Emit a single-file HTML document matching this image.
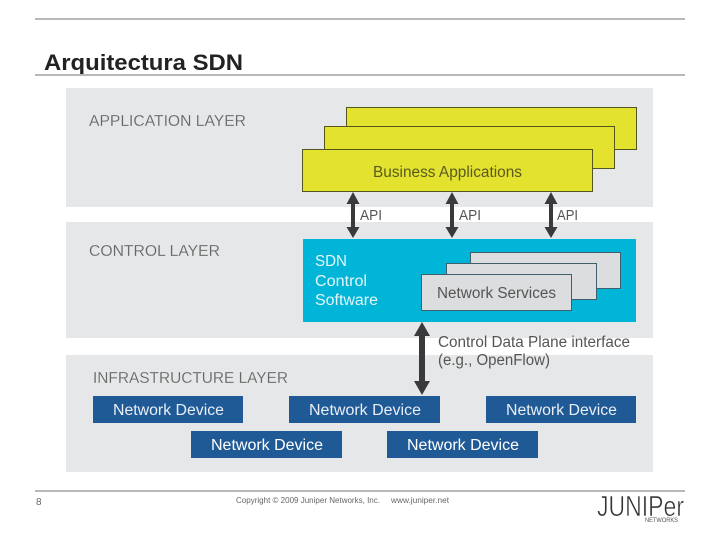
<!DOCTYPE html>
<html><head><meta charset="utf-8"><style>
html,body{margin:0;padding:0;background:#fff}
svg{display:block}
text{font-family:"Liberation Sans",sans-serif}
</style></head><body>
<svg width="720" height="540" viewBox="0 0 720 540" xmlns="http://www.w3.org/2000/svg">
<rect width="720" height="540" fill="#fff"/>
<rect x="35" y="18" width="650" height="2" fill="#b8b8b8"/>
<text x="44" y="70" font-size="22" font-weight="bold" fill="#222" textLength="199" lengthAdjust="spacingAndGlyphs">Arquitectura SDN</text>
<rect x="35" y="74" width="650" height="2" fill="#b8b8b8"/>

<rect x="66" y="88" width="587" height="119" fill="#e6e7e8"/>
<rect x="66" y="222" width="587" height="116" fill="#e6e7e8"/>
<rect x="66" y="355" width="587" height="117" fill="#e6e7e8"/>

<g font-size="16" fill="#666" stroke="#e6e7e8" stroke-width=".15">
<text x="89" y="126" textLength="157" lengthAdjust="spacingAndGlyphs">APPLICATION LAYER</text>
<text x="89" y="256" textLength="131" lengthAdjust="spacingAndGlyphs">CONTROL LAYER</text>
<text x="93" y="383" textLength="195" lengthAdjust="spacingAndGlyphs">INFRASTRUCTURE LAYER</text>
</g>

<g fill="#e3e22e" stroke="#55551f" stroke-width="1">
<rect x="346.500" y="107.500" width="290" height="42"/>
<rect x="324.500" y="126.500" width="290" height="42"/>
<rect x="302.500" y="149.500" width="290" height="42"/>
</g>
<text x="373" y="177" font-size="15.500" fill="#5a5a20" textLength="149" lengthAdjust="spacingAndGlyphs">Business Applications</text>

<rect x="303" y="239" width="333" height="83" fill="#00b5d8"/>
<g font-size="15.500" fill="#e4f6fa">
<text x="315" y="266" textLength="32" lengthAdjust="spacingAndGlyphs">SDN</text>
<text x="315" y="286" textLength="52" lengthAdjust="spacingAndGlyphs">Control</text>
<text x="315" y="305" textLength="63" lengthAdjust="spacingAndGlyphs">Software</text>
</g>
<g fill="#dcddde" stroke="#3f5f6b" stroke-width="1">
<rect x="470.500" y="252.500" width="150" height="36"/>
<rect x="446.500" y="263.500" width="150" height="36"/>
<rect x="421.500" y="274.500" width="150" height="36"/>
</g>
<text x="437" y="298" font-size="15.500" fill="#555" textLength="119" lengthAdjust="spacingAndGlyphs">Network Services</text>

<g fill="#3a3a3c">
<path d="M353 192l6.500 12h-4.500v23h4.500l-6.500 11l-6.500-11h4.500v-23h-4.500z"/>
<path d="M452 192l6.500 12h-4.500v23h4.500l-6.500 11l-6.500-11h4.500v-23h-4.500z"/>
<path d="M551 192l6.500 12h-4.500v23h4.500l-6.500 11l-6.500-11h4.500v-23h-4.500z"/>
<path d="M422 322l8 14h-5v45h5l-8 14l-8-14h5v-45h-5z"/>
</g>
<g font-size="14.500" fill="#555">
<text x="360" y="220" textLength="22" lengthAdjust="spacingAndGlyphs">API</text>
<text x="459" y="220" textLength="22" lengthAdjust="spacingAndGlyphs">API</text>
<text x="557" y="220" textLength="21" lengthAdjust="spacingAndGlyphs">API</text>
</g>
<g font-size="15.500" fill="#555">
<text x="438" y="347" textLength="192" lengthAdjust="spacingAndGlyphs">Control Data Plane interface</text>
<text x="438" y="365" textLength="112" lengthAdjust="spacingAndGlyphs">(e.g., OpenFlow)</text>
</g>

<g fill="#1f5a96">
<rect x="93" y="396" width="150" height="27"/>
<rect x="289" y="396" width="151" height="27"/>
<rect x="486" y="396" width="150" height="27"/>
<rect x="191" y="431" width="151" height="27"/>
<rect x="387" y="431" width="151" height="27"/>
</g>
<g font-size="15.500" fill="#e8eef5">
<text x="113" y="415" textLength="111" lengthAdjust="spacingAndGlyphs">Network Device</text>
<text x="309" y="415" textLength="112" lengthAdjust="spacingAndGlyphs">Network Device</text>
<text x="506" y="415" textLength="111" lengthAdjust="spacingAndGlyphs">Network Device</text>
<text x="211" y="450" textLength="112" lengthAdjust="spacingAndGlyphs" fill="#fff">Network Device</text>
<text x="407" y="450" textLength="112" lengthAdjust="spacingAndGlyphs" fill="#fff">Network Device</text>
</g>

<rect x="35" y="490" width="650" height="2" fill="#b8b8b8"/>
<text x="36" y="505" font-size="10" fill="#666">8</text>
<text x="236" y="503" font-size="8" fill="#666" textLength="144" lengthAdjust="spacingAndGlyphs">Copyright © 2009 Juniper Networks, Inc.</text>
<text x="391" y="503" font-size="8" fill="#666" textLength="58" lengthAdjust="spacingAndGlyphs">www.juniper.net</text>
<text x="597" y="516" font-size="29" fill="#333" stroke="#fff" stroke-width=".6" textLength="87" lengthAdjust="spacingAndGlyphs">JUNIPer</text>
<text x="645" y="522" font-size="6.500" fill="#555" textLength="33" lengthAdjust="spacingAndGlyphs">NETWORKS</text>
</svg>
</body></html>
